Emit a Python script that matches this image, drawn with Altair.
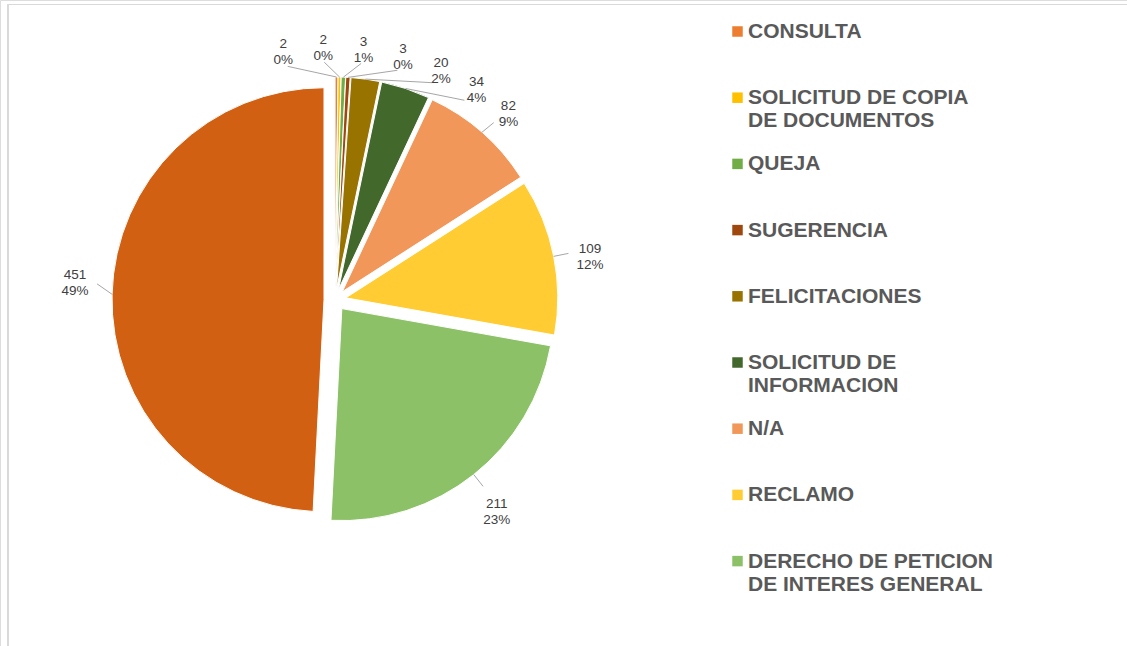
import altair as alt
import pandas as pd

categories = [
    "CONSULTA",
    "SOLICITUD DE COPIA DE DOCUMENTOS",
    "QUEJA",
    "SUGERENCIA",
    "FELICITACIONES",
    "SOLICITUD DE INFORMACION",
    "N/A",
    "RECLAMO",
    "DERECHO DE PETICION DE INTERES GENERAL",
    "DERECHO DE PETICION DE INTERES PARTICULAR",
]
values = [2, 2, 3, 3, 20, 34, 82, 109, 211, 451]
pct_labels = ["0%", "0%", "1%", "0%", "2%", "4%", "9%", "12%", "23%", "49%"]
legend_labels = [
    "CONSULTA",
    "SOLICITUD DE COPIA\nDE DOCUMENTOS",
    "QUEJA",
    "SUGERENCIA",
    "FELICITACIONES",
    "SOLICITUD DE\nINFORMACION",
    "N/A",
    "RECLAMO",
    "DERECHO DE PETICION\nDE INTERES GENERAL",
    "",
]
colors = ["#ED7D31", "#FFC000", "#70AD47", "#9E480E", "#997300",
          "#43682B", "#F1975A", "#FFCD33", "#8CC168", "#D26012"]

df = pd.DataFrame({
    "category": categories,
    "value": values,
    "pct": pct_labels,
    "legend": legend_labels,
    "order": list(range(len(categories))),
})
df["label"] = [f"{v}\n{p}" for v, p in zip(values, pct_labels)]

CX, CY, R, EXPL = 335, 300, 212, 11
LDIST = 260

base = (
    alt.Chart(df)
    .transform_joinaggregate(total="sum(value)")
    .transform_window(cum="sum(value)", sort=[alt.SortField("order")], frame=[None, 0])
    .transform_calculate(
        start="2*PI*(datum.cum - datum.value)/datum.total",
        end="2*PI*datum.cum/datum.total",
    )
    .transform_calculate(mid="(datum.start + datum.end)/2")
    .transform_calculate(
        la="datum.mid < 0.2 ? (-0.2 + 0.155*datum.order) : max(datum.mid, -0.2 + 0.155*datum.order)",
        ax=f"{CX} + {EXPL}*sin(datum.mid)",
        ay=f"{CY} - {EXPL}*cos(datum.mid)",
    )
    .transform_calculate(
        lx=f"{CX} + {LDIST}*sin(datum.la)",
        ly=f"{CY} - {LDIST}*cos(datum.la) - 18*pow(sin(datum.la), 2)*(sin(datum.la) < 0 ? 1 : 0)",
        l1x=f"datum.ax + {R}*sin(datum.mid)",
        l1y=f"datum.ay - {R}*cos(datum.mid)",
        l2x=f"{CX} + {LDIST - 22}*sin(datum.la)",
        l2y=f"{CY} - {LDIST - 22}*cos(datum.la) - 10*pow(sin(datum.la), 2)*(sin(datum.la) < 0 ? 1 : 0)",
    )
)

color = alt.Color(
    "category:N",
    scale=alt.Scale(domain=categories, range=colors),
    legend=None,
)

arcs = base.mark_arc(radius=R, stroke="white", strokeWidth=1).encode(
    theta=alt.Theta("start:Q", scale=None, stack=None),
    theta2="end:Q",
    x=alt.X("ax:Q", scale=None),
    y=alt.Y("ay:Q", scale=None),
    color=color,
)

leaders = base.mark_rule(color="#A6A6A6", strokeWidth=1).encode(
    x=alt.X("l1x:Q", scale=None),
    y=alt.Y("l1y:Q", scale=None),
    x2="l2x:Q",
    y2="l2y:Q",
)

labels = base.mark_text(
    font="Liberation Sans", fontSize=13.5, color="#404040",
    lineBreak="\n", lineHeight=16, align="center", baseline="middle",
).encode(
    x=alt.X("lx:Q", scale=None),
    y=alt.Y("ly:Q", scale=None),
    text="label:N",
)

leg_base = (
    alt.Chart(df)
    .transform_filter("datum.legend != ''")
    .transform_calculate(legy="31.5 + 66.2*datum.order")
    .transform_calculate(legty="datum.legy - 10.5")
)

leg_sym = leg_base.mark_square(size=110, opacity=1).encode(
    x=alt.value(737.5),
    y=alt.Y("legy:Q", scale=None),
    color=color,
)

leg_txt = leg_base.mark_text(
    font="Liberation Sans", fontSize=21, fontWeight="bold", color="#595959",
    lineBreak="\n", lineHeight=23, align="left", baseline="top",
).encode(
    x=alt.value(748),
    y=alt.Y("legty:Q", scale=None),
    text="legend:N",
)

frame = alt.Chart(df).mark_rect(
    fillOpacity=0, stroke="#D9D9D9", strokeWidth=1
).encode(
    x=alt.value(8), x2=alt.value(1200), y=alt.value(4.5), y2=alt.value(700)
)

chart = (
    alt.layer(frame, arcs, leaders, labels, leg_sym, leg_txt)
    .properties(width=1127, height=646, autosize=alt.AutoSizeParams(type="none"), padding=0)
    .configure_view(stroke=None)
    .configure(background="white")
)

chart.save("out.html", embed_options={"renderer": "svg", "actions": False})
